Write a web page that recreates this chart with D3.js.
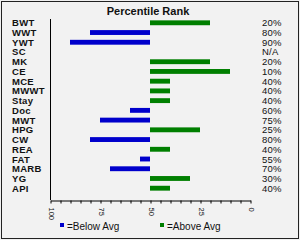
<!DOCTYPE html>
<html>
<head>
<meta charset="utf-8">
<script src="https://cdn.jsdelivr.net/npm/d3@7"></script>
<style>
  body { margin: 0; background: #f0f0f0; }
  text { font-family: "Liberation Sans", Arial, sans-serif; fill: #111; }
</style>
</head>
<body>
<div id="chart"></div>
<script>
const categories = ["BWT", "WWT", "YWT", "SC", "MK", "CE", "MCE", "MWWT", "Stay", "Doc",
  "MWT", "HPG", "CW", "REA", "FAT", "MARB", "YG", "API"];
const percentiles = [20, 80, 90, null, 20, 10, 40, 40, 40, 60, 75, 25, 80, 40, 55, 70, 30, 40];
const tickLabels = [100, 75, 50, 25, 0];
const legendItems = ["=Below Avg", "=Above Avg"];

const width = 300, height = 240;
const blue = "#0000cc", green = "#007f00";

const svg = d3.select("#chart")
  .append("svg")
  .attr("width", width)
  .attr("height", height)

svg.append("rect")
  .attr("x", 1.5).attr("y", 1.5)
  .attr("width", width - 3).attr("height", height - 3)
  .attr("fill", "#f2f2f2")
  .attr("stroke", "#222")

const x = d3.scaleLinear().domain([100, 0]).range([50, 250]);
const y = d3.scaleBand().domain(categories).range([15.5, 195.5]).padding(0.5);

svg.append("text")
  .attr("x", 148).attr("y", 15)
  .attr("text-anchor", "middle")
  .style("font-size", "11px")
  .style("font-weight", "bold")
  .text("Percentile Rank")

// category labels
svg.selectAll(".cat")
  .data(categories)
  .enter()
  .append("text")
  .attr("class", "cat")
  .attr("x", 12)
  .attr("y", d => y(d) + y.bandwidth() / 2 + 3.5)
  .style("font-size", "9.5px")
  .style("font-weight", "bold")
  .style("letter-spacing", "0.3px")
  .text(d => d)

// bars
const rows = categories.map((c, i) => ({ cat: c, v: percentiles[i] }));
svg.selectAll(".bar")
  .data(rows.filter(d => d.v != null))
  .enter()
  .append("rect")
  .attr("class", "bar")
  .attr("x", d => Math.min(x(50), x(d.v)))
  .attr("y", d => y(d.cat))
  .attr("width", d => Math.abs(x(d.v) - x(50)))
  .attr("height", y.bandwidth())
  .attr("fill", d => d.v > 50 ? blue : green)

// percent labels
svg.selectAll(".pct")
  .data(rows)
  .enter()
  .append("text")
  .attr("class", "pct")
  .attr("x", 262)
  .attr("y", d => y(d.cat) + y.bandwidth() / 2 + 3.5)
  .style("font-size", "9.5px")
  .style("letter-spacing", "0.2px")
  .text(d => d.v == null ? "N/A" : d.v + "%")

// vertical axis line
svg.append("line")
  .attr("x1", x(100) + 0.5).attr("x2", x(100) + 0.5)
  .attr("y1", 19).attr("y2", 200)
  .attr("stroke", "#000")

// bottom axis
const xAxis = d3.axisBottom(x)
  .tickValues(d3.range(0, 101, 5))
  .tickSize(3)
  .tickSizeOuter(0)
  .tickFormat(d => tickLabels.includes(d) ? d : "")

const gx = svg.append("g")
  .attr("transform", "translate(0.5,200.5)")
  .call(xAxis)
gx.selectAll("path, line").attr("stroke", "#000")
gx.selectAll("text")
  .attr("transform", "rotate(90)")
  .attr("x", 7).attr("y", 0).attr("dy", "0.32em")
  .attr("text-anchor", "start")
  .style("font-size", "7.5px")
  .style("font-family", "'Liberation Sans', Arial, sans-serif")
  .attr("fill", "#111")

// legend
const legend = svg.selectAll(".leg")
  .data(legendItems)
  .enter()
  .append("g")
  .attr("transform", (d, i) => `translate(${60 + i * 100},223)`)
legend.append("rect")
  .attr("width", 4).attr("height", 4)
  .attr("fill", (d, i) => i == 0 ? blue : green)
legend.append("text")
  .attr("x", 7).attr("y", 7)
  .style("font-size", "10px")
  .text(d => d)
</script>
</body>
</html>
